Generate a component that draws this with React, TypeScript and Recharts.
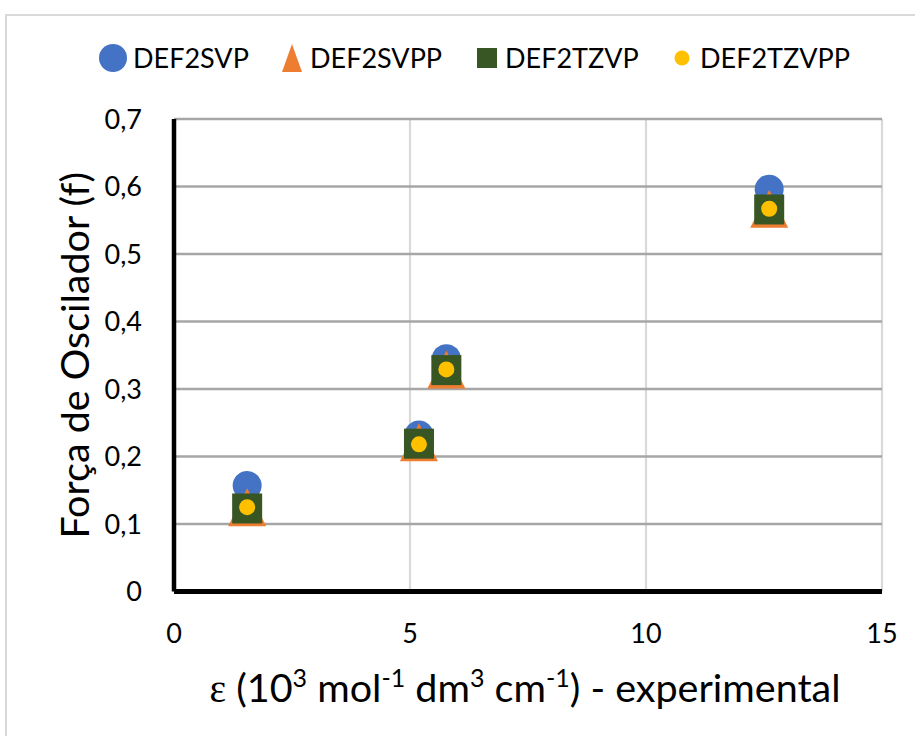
import { ScatterChart, Scatter, XAxis, YAxis, CartesianGrid, Label } from "recharts"

// absorbância molar experimental (10^3 mol-1 dm3 cm-1)
const epsilonExp = [1.55, 5.19, 5.77, 12.61]

// força de oscilador calculada por base
const def2svp = [0.157, 0.232, 0.345, 0.596]
const def2svpp = [0.125, 0.221, 0.329, 0.567]
const def2tzvp = [0.123, 0.219, 0.328, 0.566]
const def2tzvpp = [0.125, 0.218, 0.329, 0.567]

const seriesNames = ["DEF2SVP", "DEF2SVPP", "DEF2TZVP", "DEF2TZVPP"]
const xTicks = [0, 5, 10, 15]
const yTicks = [0, 0.1, 0.2, 0.3, 0.4, 0.5, 0.6, 0.7]

const FONT = "Lato, 'Open Sans', sans-serif"
const BLUE = "#4472C4"
const ORANGE = "#ED7D31"
const GREEN = "#375623"
const YELLOW = "#FFC000"

const toPoints = (ys: number[]) => epsilonExp.map((x, i) => ({ x, y: ys[i] }))

const fmtY = (v: number) => (v === 0 ? "0" : v.toFixed(1).replace(".", ","))

const BlueCircle = ({ cx, cy }: any) => <circle cx={cx} cy={cy} r={14.5} fill={BLUE} />

const OrangeTriangle = ({ cx, cy }: any) => (
  <polygon points={`${cx},${cy - 19} ${cx - 19},${cy + 19} ${cx + 19},${cy + 19}`} fill={ORANGE} />
)

const GreenSquare = ({ cx, cy }: any) => (
  <rect x={cx - 15} y={cy - 15} width={30} height={30} fill={GREEN} />
)

const YellowDot = ({ cx, cy }: any) => <circle cx={cx} cy={cy} r={8} fill={YELLOW} />

function YTitle({ viewBox }: any) {
  const cy = viewBox.y + viewBox.height / 2
  return (
    <text
      x={73}
      y={cy}
      transform={`rotate(-90 73 ${cy})`}
      textAnchor="middle"
      dominantBaseline="central"
      fontSize={39.5}
      fontFamily={FONT}
      fill="#000"
    >
      Força de Oscilador (f)
    </text>
  )
}

function XTitle({ viewBox }: any) {
  const cx = viewBox.x + viewBox.width / 2 - 3
  const sup = -15
  return (
    <text x={cx} y={702} textAnchor="middle" fontSize={39.5} fontFamily={FONT} fill="#000">
      <tspan fontFamily="'Liberation Serif', serif">ε</tspan>
      <tspan> (10</tspan>
      <tspan fontSize={25} dy={sup}>3</tspan>
      <tspan dy={-sup}> mol</tspan>
      <tspan fontSize={25} dy={sup}>-1</tspan>
      <tspan dy={-sup}> dm</tspan>
      <tspan fontSize={25} dy={sup}>3</tspan>
      <tspan dy={-sup}> cm</tspan>
      <tspan fontSize={25} dy={sup}>-1</tspan>
      <tspan dy={-sup}>) - experimental</tspan>
    </text>
  )
}

function LegendIcon({ i }: { i: number }) {
  if (i === 0) return <svg width={30} height={30}><circle cx={15} cy={15} r={14} fill={BLUE} /></svg>
  if (i === 1) return <svg width={22} height={30}><polygon points="11,1 1,29 21,29" fill={ORANGE} /></svg>
  if (i === 2) return <svg width={22} height={30}><rect x={1} y={5} width={20} height={20} fill={GREEN} /></svg>
  return <svg width={18} height={30}><circle cx={9} cy={15} r={7.5} fill={YELLOW} /></svg>
}

const legendIconLeft = [98, 281, 476, 673]
const legendTextLeft = [133, 310, 505, 700]

export default function App() {
  return (
    <div
      style={{
        position: "absolute",
        left: 0,
        top: 0,
        width: 915,
        height: 736,
        overflow: "hidden",
        background: "#fff",
        fontFamily: FONT,
      }}
    >
      <div
        style={{
          position: "absolute",
          left: 5,
          top: 14,
          width: 940,
          height: 760,
          borderLeft: "2px solid #d9d9d9",
          borderTop: "2px solid #d9d9d9",
        }}
      />
      {seriesNames.map((name, i) => (
        <div key={name}>
          <div style={{ position: "absolute", left: legendIconLeft[i], top: 43, height: 30 }}>
            <LegendIcon i={i} />
          </div>
          <div
            style={{
              position: "absolute",
              left: legendTextLeft[i],
              top: 40,
              fontSize: 27,
              lineHeight: "36px",
              color: "#000",
            }}
          >
            {name}
          </div>
        </div>
      ))}
      <div style={{ position: "absolute", left: 0, top: 0 }}>
        <ScatterChart width={915} height={736} margin={{ top: 119, right: 33, bottom: 84.5, left: 114 }}>
          <CartesianGrid horizontal={false} stroke="#d9d9d9" strokeWidth={2.2} />
          <CartesianGrid vertical={false} stroke="#a6a6a6" strokeWidth={2.6} />
          <XAxis
            type="number"
            dataKey="x"
            domain={[0, 15]}
            ticks={xTicks}
            height={60}
            tickSize={0}
            tickMargin={32}
            axisLine={{ stroke: "#000", strokeWidth: 5 }}
            tick={{ fill: "#000", fontSize: 27, fontFamily: FONT }}
          >
            <Label content={<XTitle />} />
          </XAxis>
          <YAxis
            type="number"
            dataKey="y"
            domain={[0, 0.7]}
            ticks={yTicks}
            width={60}
            tickSize={0}
            tickMargin={32}
            tickFormatter={fmtY}
            axisLine={{ stroke: "#000", strokeWidth: 4.5 }}
            tick={{ fill: "#000", fontSize: 27, fontFamily: FONT }}
          >
            <Label content={<YTitle />} />
          </YAxis>
          <Scatter name={seriesNames[0]} data={toPoints(def2svp)} shape={<BlueCircle />} isAnimationActive={false} />
          <Scatter name={seriesNames[1]} data={toPoints(def2svpp)} shape={<OrangeTriangle />} isAnimationActive={false} />
          <Scatter name={seriesNames[2]} data={toPoints(def2tzvp)} shape={<GreenSquare />} isAnimationActive={false} />
          <Scatter name={seriesNames[3]} data={toPoints(def2tzvpp)} shape={<YellowDot />} isAnimationActive={false} />
        </ScatterChart>
      </div>
    </div>
  )
}
